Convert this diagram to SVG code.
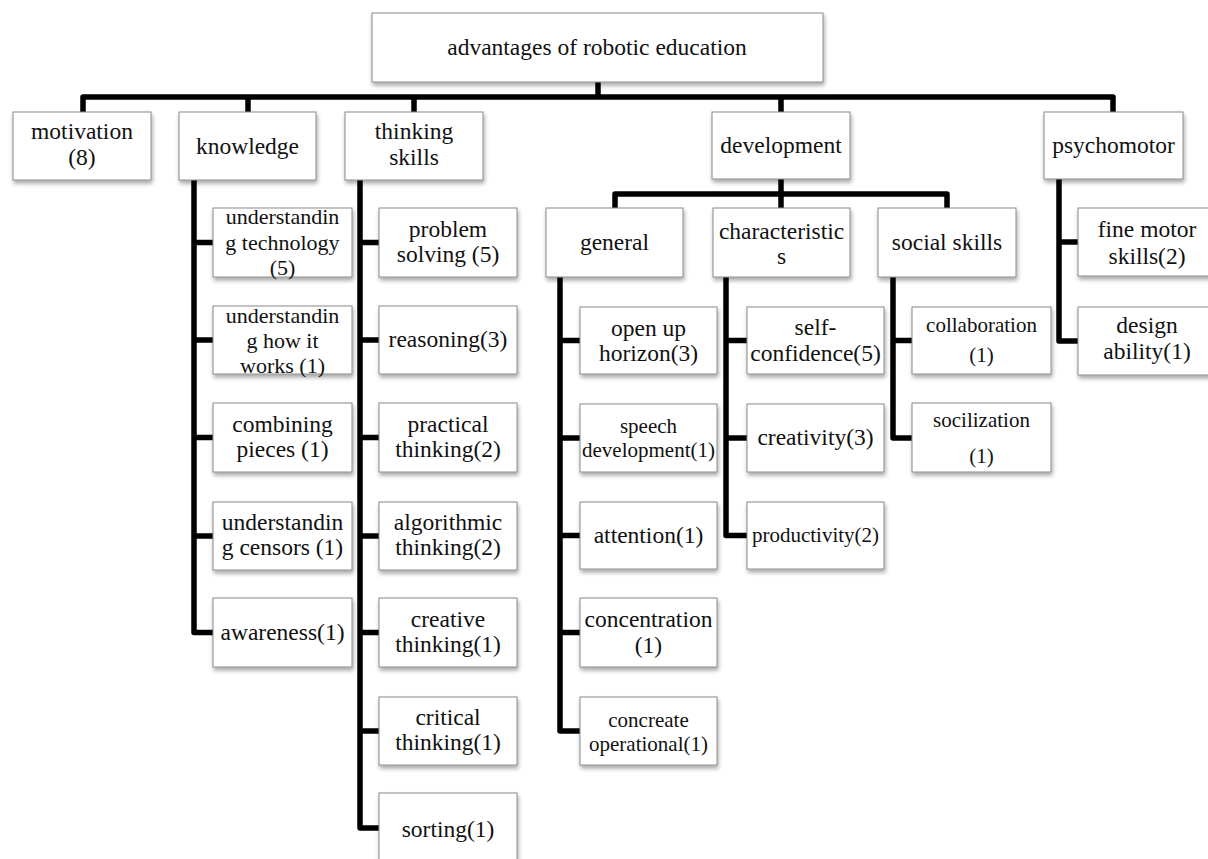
<svg xmlns="http://www.w3.org/2000/svg" width="1208" height="859" viewBox="0 0 1208 859">
<defs>
<filter id="sh" x="-10%" y="-10%" width="130%" height="140%">
<feDropShadow dx="1" dy="3" stdDeviation="2" flood-color="#000" flood-opacity="0.35"/>
</filter>
<style>
.b{fill:#fff;stroke:#8a8a8a;stroke-width:1;filter:url(#sh)}
.t text{font-family:'Liberation Serif','DejaVu Serif',serif;font-size:23.5px;fill:#111;text-anchor:middle}
.t text.s{font-size:21px}
.t text.m{font-size:22px}
.c{fill:none;stroke:#000;stroke-width:5.5;stroke-linejoin:round}
</style>
</defs>
<rect width="1208" height="859" fill="#fff"/>
<g id="connectors">
<path class="c" d="M598,82 V97"/>
<path class="c" d="M83,112 V97 H1113 V112"/>
<path class="c" d="M248,97 V112 M414,97 V112 M781,97 V112"/>
<path class="c" d="M194,180 V632.5 H213 M194,242.5 H213 M194,340 H213 M194,437.5 H213 M194,536 H213"/>
<path class="c" d="M360,180 V828 H379 M360,242.5 H379 M360,340 H379 M360,437.5 H379 M360,536 H379 M360,632.5 H379 M360,731 H379"/>
<path class="c" d="M781,179 V208"/>
<path class="c" d="M615,208 V194 H947 V208"/>
<path class="c" d="M560,277 V731 H580 M560,340.5 H580 M560,438 H580 M560,535.5 H580 M560,632.5 H580"/>
<path class="c" d="M726,277 V535.5 H747 M726,340.5 H747 M726,438 H747"/>
<path class="c" d="M893,277 V438 H912 M893,340.5 H912"/>
<path class="c" d="M1059,179 V341 H1078 M1059,242 H1078"/>
</g>
<g class="t" font-family="Liberation Serif, DejaVu Serif, serif">
<g id="root"><rect class="b" x="372" y="13" width="451" height="69"/><text x="597" y="55">advantages of robotic education</text></g>
<g id="motivation"><rect class="b" x="13" y="112" width="138" height="68"/><text x="82" y="139">motivation</text><text x="82" y="165">(8)</text></g>
<g id="knowledge"><rect class="b" x="179" y="112" width="137" height="68"/><text x="247.5" y="154">knowledge</text></g>
<g id="thinking"><rect class="b" x="345" y="112" width="138" height="68"/><text x="414" y="139">thinking</text><text x="414" y="165">skills</text></g>
<g id="development"><rect class="b" x="712" y="112" width="138" height="67"/><text x="781" y="153">development</text></g>
<g id="psychomotor"><rect class="b" x="1044" y="112" width="139" height="67"/><text x="1113.5" y="153">psychomotor</text></g>

<g id="k1"><rect class="b" x="213" y="208" width="139" height="69"/><text class="m" x="282.5" y="224">understandin</text><text class="m" x="282.5" y="250">g technology</text><text class="m" x="282.5" y="275">(5)</text></g>
<g id="k2"><rect class="b" x="213" y="306" width="139" height="68"/><text class="m" x="282.5" y="323">understandin</text><text class="m" x="282.5" y="348">g how it</text><text class="m" x="282.5" y="373">works (1)</text></g>
<g id="k3"><rect class="b" x="213" y="403" width="139" height="69"/><text x="282.5" y="432">combining</text><text x="282.5" y="457">pieces (1)</text></g>
<g id="k4"><rect class="b" x="213" y="502" width="139" height="68"/><text x="282.5" y="530">understandin</text><text x="282.5" y="555">g censors (1)</text></g>
<g id="k5"><rect class="b" x="213" y="598" width="139" height="69"/><text x="282.5" y="640">awareness(1)</text></g>

<g id="t1"><rect class="b" x="379" y="208" width="138" height="69"/><text x="448" y="237">problem</text><text x="448" y="262">solving (5)</text></g>
<g id="t2"><rect class="b" x="379" y="306" width="138" height="68"/><text x="448" y="347">reasoning(3)</text></g>
<g id="t3"><rect class="b" x="379" y="403" width="138" height="69"/><text x="448" y="432">practical</text><text x="448" y="457">thinking(2)</text></g>
<g id="t4"><rect class="b" x="379" y="502" width="138" height="68"/><text x="448" y="530">algorithmic</text><text x="448" y="555">thinking(2)</text></g>
<g id="t5"><rect class="b" x="379" y="598" width="138" height="69"/><text x="448" y="627">creative</text><text x="448" y="652">thinking(1)</text></g>
<g id="t6"><rect class="b" x="379" y="697" width="138" height="68"/><text x="448" y="725">critical</text><text x="448" y="750">thinking(1)</text></g>
<g id="t7"><rect class="b" x="379" y="793" width="138" height="69"/><text x="448" y="837">sorting(1)</text></g>

<g id="general"><rect class="b" x="546" y="208" width="137" height="69"/><text x="614.5" y="250">general</text></g>
<g id="characteristics"><rect class="b" x="713" y="208" width="137" height="69"/><text x="781.5" y="239">characteristic</text><text x="781.5" y="264">s</text></g>
<g id="social"><rect class="b" x="878" y="208" width="138" height="69"/><text x="947" y="250">social skills</text></g>

<g id="g1"><rect class="b" x="580" y="307" width="137" height="67"/><text x="648.5" y="336">open up</text><text x="648.5" y="361">horizon(3)</text></g>
<g id="g2"><rect class="b" x="580" y="404" width="137" height="68"/><text class="s" x="648.5" y="433">speech</text><text class="s" x="648.5" y="457">development(1)</text></g>
<g id="g3"><rect class="b" x="580" y="502" width="137" height="67"/><text x="648.5" y="543">attention(1)</text></g>
<g id="g4"><rect class="b" x="580" y="598" width="137" height="69"/><text x="648.5" y="627">concentration</text><text x="648.5" y="653">(1)</text></g>
<g id="g5"><rect class="b" x="580" y="697" width="137" height="68"/><text class="s" x="648.5" y="727">concreate</text><text class="s" x="648.5" y="751">operational(1)</text></g>

<g id="c1"><rect class="b" x="747" y="307" width="137" height="67"/><text x="815.5" y="335">self-</text><text x="815.5" y="361">confidence(5)</text></g>
<g id="c2"><rect class="b" x="747" y="404" width="137" height="68"/><text x="815.5" y="445">creativity(3)</text></g>
<g id="c3"><rect class="b" x="747" y="502" width="137" height="67"/><text class="s" x="815.5" y="542">productivity(2)</text></g>

<g id="s1"><rect class="b" x="912" y="307" width="139" height="67"/><text class="s" x="981.5" y="332">collaboration</text><text class="s" x="981.5" y="362">(1)</text></g>
<g id="s2"><rect class="b" x="912" y="403" width="139" height="69"/><text class="s" x="981.5" y="427">socilization</text><text class="s" x="981.5" y="463">(1)</text></g>

<g id="p1"><rect class="b" x="1078" y="208" width="138" height="68"/><text x="1147" y="237">fine motor</text><text x="1147" y="264">skills(2)</text></g>
<g id="p2"><rect class="b" x="1078" y="307" width="138" height="68"/><text x="1147" y="333">design</text><text x="1147" y="359">ability(1)</text></g>
</g>
</svg>
